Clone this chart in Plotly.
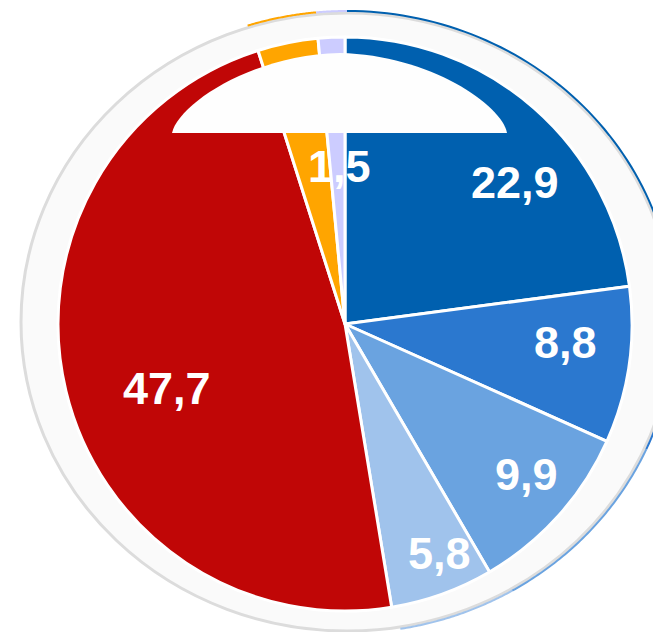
import numpy as np
import plotly.graph_objects as go

# ---- data ----
labels = ["22,9", "8,8", "9,9", "5,8", "47,7", "3,4", "1,5"]
values = [22.9, 8.8, 9.9, 5.8, 47.7, 3.4, 1.5]
colors = ["#0060AF", "#2B78CF", "#6AA3E0", "#A0C3EC", "#C00606", "#FFA500", "#CCCCFF"]

# label anchor positions (pixels) ; None = label hidden behind the white cap
label_pos = [(515, 182), (565, 342), (526, 474), (439, 553), (167, 389), None, (339, 166)]

W, H = 653, 632


def X(px):
    return px / W


def Y(py):
    return 1 - py / H


# pie geometry (pixels)
PCX, PCY, PR = 345, 324, 287
# surrounding ring (ellipse, pixels)
RCX, RCY, RRX, RRY = 347, 322, 326, 309

fig = go.Figure()
fig.add_trace(go.Pie(
    values=values,
    labels=labels,
    marker=dict(colors=colors, line=dict(color="white", width=3)),
    sort=False,
    direction="clockwise",
    rotation=0,
    textinfo="none",
    hoverinfo="skip",
    showlegend=False,
    domain=dict(x=[X(PCX - PR), X(PCX + PR)], y=[Y(PCY + PR), Y(PCY - PR)]),
))

shapes = []
# light ring behind the pie
shapes.append(dict(type="circle", xref="paper", yref="paper", layer="below",
                   x0=X(RCX - RRX), x1=X(RCX + RRX), y0=Y(RCY + RRY), y1=Y(RCY - RRY),
                   fillcolor="#FAFAFA", line=dict(color="#DCDCDC", width=3)))

# coloured rim peeking out along the ring edge (follows slice angles)
total = sum(values)
cum = np.concatenate([[0], np.cumsum(values)]) / total * 360.0
for i, c in enumerate(colors):
    if c == "#C00606":
        continue
    a0, a1 = cum[i], cum[i + 1]
    if i >= 5:
        a0, a1 = a0 - 360, a1 - 360
    th = np.radians(np.linspace(a0, a1, 60))
    xs = RCX + (RRX + 2) * np.sin(th)
    ys = RCY - (RRY + 2) * np.cos(th)
    path = "M " + " L ".join(f"{X(x):.5f},{Y(y):.5f}" for x, y in zip(xs, ys))
    shapes.append(dict(type="path", xref="paper", yref="paper", layer="below",
                       path=path, line=dict(color=c, width=2)))

# white cap over the top of the pie
pts = [(172, 133), (178, 105), (250, 55), (340, 53), (430, 55), (502, 105), (507, 133)]
p = [f"{X(x):.5f},{Y(y):.5f}" for x, y in pts]
dome = f"M {p[0]} C {p[1]} {p[2]} {p[3]} C {p[4]} {p[5]} {p[6]} Z"
shapes.append(dict(type="path", xref="paper", yref="paper", layer="above",
                   path=dome, fillcolor="#FEFEFE", line=dict(width=0)))

annotations = []
for lab, pos in zip(labels, label_pos):
    if pos is None:
        continue
    annotations.append(dict(x=X(pos[0]), y=Y(pos[1]), xref="paper", yref="paper",
                            text=lab, showarrow=False, xanchor="center", yanchor="middle",
                            font=dict(family="Liberation Sans, Arial, sans-serif", size=45,
                                      color="white", weight="bold")))

fig.update_layout(
    width=W, height=H,
    margin=dict(l=0, r=0, t=0, b=0),
    paper_bgcolor="white", plot_bgcolor="white",
    shapes=shapes, annotations=annotations,
    showlegend=False,
)

fig.write_html("out.html", config={"displayModeBar": False},
               post_script="document.body.style.margin='0';document.body.style.overflow='hidden';")
